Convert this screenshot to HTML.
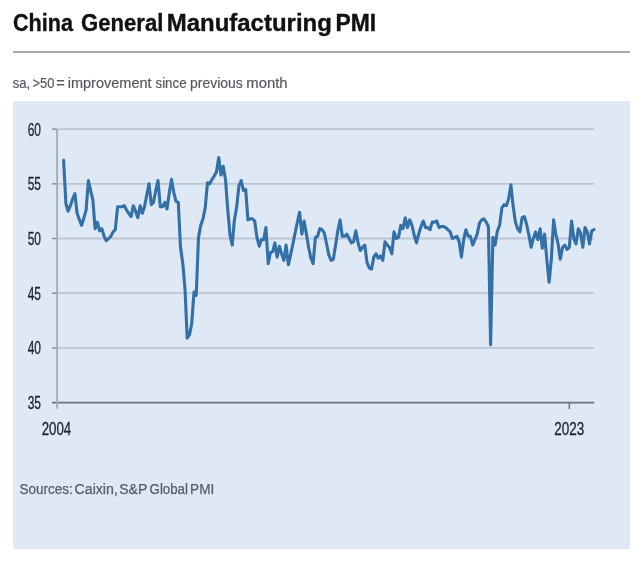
<!DOCTYPE html>
<html><head><meta charset="utf-8"><style>
html,body{margin:0;padding:0;background:#fff;}
body{width:640px;height:563px;position:relative;overflow:hidden;font-family:"Liberation Sans",sans-serif;}
svg{position:absolute;left:0;top:0;filter:blur(0.3px);}
.g{stroke:#bcc6d3;stroke-width:1.8;}
.t{stroke:#8c9097;stroke-width:1.5;}
.ax{stroke:#80858c;stroke-width:1.8;}
.yl{font-family:"Liberation Sans",sans-serif;font-size:17.5px;fill:#1c2130;stroke:#1c2130;stroke-width:0.3;}
</style></head><body>
<svg width="640" height="563" viewBox="0 0 640 563">
<text x="12.89" y="30.80" font-size="23.20" textLength="60.06" lengthAdjust="spacingAndGlyphs" font-family="Liberation Sans" font-weight="bold" fill="#111" stroke="#111" stroke-width="0.35">China</text><text x="81.02" y="30.80" font-size="23.20" textLength="82.32" lengthAdjust="spacingAndGlyphs" font-family="Liberation Sans" font-weight="bold" fill="#111" stroke="#111" stroke-width="0.35">General</text><text x="166.74" y="30.80" font-size="23.20" textLength="165.09" lengthAdjust="spacingAndGlyphs" font-family="Liberation Sans" font-weight="bold" fill="#111" stroke="#111" stroke-width="0.35">Manufacturing</text><text x="335.41" y="30.80" font-size="23.20" textLength="40.75" lengthAdjust="spacingAndGlyphs" font-family="Liberation Sans" font-weight="bold" fill="#111" stroke="#111" stroke-width="0.35">PMI</text>
<rect x="13" y="51" width="617" height="2" fill="#aaaaaa"/>
<text x="12.71" y="87.60" font-size="15.00" textLength="17.35" lengthAdjust="spacingAndGlyphs" font-family="Liberation Sans" fill="#55585e" stroke="#55585e" stroke-width="0.2">sa,</text><text x="32.56" y="87.60" font-size="15.00" textLength="21.88" lengthAdjust="spacingAndGlyphs" font-family="Liberation Sans" fill="#55585e" stroke="#55585e" stroke-width="0.2">&gt;50</text><text x="56.27" y="87.60" font-size="15.00" textLength="8.55" lengthAdjust="spacingAndGlyphs" font-family="Liberation Sans" fill="#55585e" stroke="#55585e" stroke-width="0.2">=</text><text x="67.76" y="87.60" font-size="15.00" textLength="83.79" lengthAdjust="spacingAndGlyphs" font-family="Liberation Sans" fill="#55585e" stroke="#55585e" stroke-width="0.2">improvement</text><text x="155.50" y="87.60" font-size="15.00" textLength="31.09" lengthAdjust="spacingAndGlyphs" font-family="Liberation Sans" fill="#55585e" stroke="#55585e" stroke-width="0.2">since</text><text x="190.10" y="87.60" font-size="15.00" textLength="52.59" lengthAdjust="spacingAndGlyphs" font-family="Liberation Sans" fill="#55585e" stroke="#55585e" stroke-width="0.2">previous</text><text x="246.23" y="87.60" font-size="15.00" textLength="41.43" lengthAdjust="spacingAndGlyphs" font-family="Liberation Sans" fill="#55585e" stroke="#55585e" stroke-width="0.2">month</text>
<rect x="13" y="101" width="617" height="448" fill="#dfe9f6"/>
<line x1="57.8" y1="129.1" x2="594.2" y2="129.1" class="g"/><line x1="52" y1="129.1" x2="57" y2="129.1" class="t"/><line x1="57.8" y1="183.8" x2="594.2" y2="183.8" class="g"/><line x1="52" y1="183.8" x2="57" y2="183.8" class="t"/><line x1="57.8" y1="238.5" x2="594.2" y2="238.5" class="g"/><line x1="52" y1="238.5" x2="57" y2="238.5" class="t"/><line x1="57.8" y1="293.2" x2="594.2" y2="293.2" class="g"/><line x1="52" y1="293.2" x2="57" y2="293.2" class="t"/><line x1="57.8" y1="347.9" x2="594.2" y2="347.9" class="g"/><line x1="52" y1="347.9" x2="57" y2="347.9" class="t"/>
<text x="41" y="135.6" class="yl" text-anchor="end" textLength="13.3" lengthAdjust="spacingAndGlyphs">60</text><text x="41" y="190.3" class="yl" text-anchor="end" textLength="13.3" lengthAdjust="spacingAndGlyphs">55</text><text x="41" y="245.0" class="yl" text-anchor="end" textLength="13.3" lengthAdjust="spacingAndGlyphs">50</text><text x="41" y="299.7" class="yl" text-anchor="end" textLength="13.3" lengthAdjust="spacingAndGlyphs">45</text><text x="41" y="354.4" class="yl" text-anchor="end" textLength="13.3" lengthAdjust="spacingAndGlyphs">40</text><text x="41" y="409.1" class="yl" text-anchor="end" textLength="13.3" lengthAdjust="spacingAndGlyphs">35</text>
<line x1="52" y1="402.6" x2="594.2" y2="402.6" stroke="#6f747b" stroke-width="1.8"/>
<line x1="57.1" y1="129" x2="57.1" y2="408.8" stroke="#a3adba" stroke-width="1.9"/>
<line x1="569.3" y1="402" x2="569.3" y2="409" stroke="#6f747b" stroke-width="1.5"/>
<text x="56.5" y="434.8" class="yl" text-anchor="middle" textLength="29.5" lengthAdjust="spacingAndGlyphs">2004</text>
<text x="569.2" y="434.8" class="yl" text-anchor="middle" textLength="30" lengthAdjust="spacingAndGlyphs">2023</text>
<polyline points="63.6,160.3 65.9,203.5 68.1,211.2 70.4,205.7 72.6,199.1 74.9,193.6 77.1,213.3 79.4,219.9 81.6,225.4 83.9,217.7 86.1,210.1 88.4,180.5 90.6,190.4 92.9,200.2 95.1,228.7 97.4,222.1 99.6,230.8 101.8,228.7 104.1,236.3 106.3,240.7 108.6,238.5 110.8,236.3 113.1,231.9 115.3,229.7 117.6,206.8 119.8,206.8 122.1,206.8 124.3,205.7 126.6,210.1 128.8,213.3 131.1,216.6 133.3,205.7 135.6,211.2 137.8,217.7 140.1,205.7 142.3,213.3 144.5,206.8 146.8,194.7 149.0,183.8 151.3,204.6 153.5,202.4 155.8,190.4 158.0,180.5 160.3,206.8 162.5,206.8 164.8,202.4 167.0,209.0 169.3,192.6 171.5,179.4 173.8,192.6 176.0,201.3 178.3,202.4 180.5,247.3 182.8,263.7 185.0,288.8 187.2,338.1 189.5,334.8 191.7,323.8 194.0,292.1 196.2,295.4 198.5,237.4 200.7,225.4 203.0,218.8 205.2,207.9 207.5,182.7 209.7,183.8 212.0,179.4 214.2,176.1 216.5,171.8 218.7,157.5 221.0,175.0 223.2,166.3 225.5,179.4 227.7,209.0 229.9,234.1 232.2,245.1 234.4,219.9 236.7,206.8 238.9,186.0 241.2,180.5 243.4,190.4 245.7,189.3 247.9,219.9 250.2,218.8 252.4,218.8 254.7,221.0 256.9,237.4 259.2,246.2 261.4,239.6 263.7,239.6 265.9,227.6 268.2,263.7 270.4,252.7 272.7,251.6 274.9,242.9 277.1,257.1 279.4,246.2 281.6,253.8 283.9,260.4 286.1,245.1 288.4,264.8 290.6,254.9 292.9,244.0 295.1,233.0 297.4,222.1 299.6,212.2 301.9,234.1 304.1,221.0 306.4,234.1 308.6,247.3 310.9,258.2 313.1,263.7 315.4,237.4 317.6,236.3 319.8,228.7 322.1,229.7 324.3,233.0 326.6,244.0 328.8,254.9 331.1,260.4 333.3,259.3 335.6,245.1 337.8,230.8 340.1,219.9 342.3,236.3 344.6,236.3 346.8,234.1 349.1,238.5 351.3,242.9 353.6,241.8 355.8,230.8 358.1,242.9 360.3,250.5 362.5,247.3 364.8,245.1 367.0,262.6 369.3,268.0 371.5,269.1 373.8,257.1 376.0,253.8 378.3,258.2 380.5,256.0 382.8,260.4 385.0,241.8 387.3,245.1 389.5,247.3 391.8,253.8 394.0,231.9 396.3,238.5 398.5,237.4 400.8,225.4 403.0,228.7 405.2,217.7 407.5,227.6 409.7,219.9 412.0,225.4 414.2,235.2 416.5,242.9 418.7,234.1 421.0,226.5 423.2,221.0 425.5,227.6 427.7,227.6 430.0,229.7 432.2,222.1 434.5,222.1 436.7,221.0 439.0,227.6 441.2,226.5 443.5,226.5 445.7,227.6 447.9,229.7 450.2,231.9 452.4,238.5 454.7,237.4 456.9,236.3 459.2,241.8 461.4,257.1 463.7,239.6 465.9,229.7 468.2,236.3 470.4,236.3 472.7,245.1 474.9,239.6 477.2,234.1 479.4,223.2 481.7,219.9 483.9,218.8 486.2,222.1 488.4,226.5 490.6,344.6 492.9,237.4 495.1,245.1 497.4,230.8 499.6,225.4 501.9,207.9 504.1,204.6 506.4,205.7 508.6,199.1 510.9,184.9 513.1,205.7 515.4,222.1 517.6,228.7 519.9,231.9 522.1,217.7 524.4,216.6 526.6,224.3 528.9,235.2 531.1,247.3 533.3,238.5 535.6,231.9 537.8,239.6 540.1,228.7 542.3,248.3 544.6,234.1 546.8,259.3 549.1,282.3 551.3,259.3 553.6,219.9 555.8,234.1 558.1,244.0 560.3,259.3 562.6,247.3 564.8,245.1 567.1,249.4 569.3,247.3 571.6,221.0 573.8,238.5 576.0,244.0 578.3,228.7 580.5,233.0 582.8,247.3 585.0,227.6 587.3,231.9 589.5,244.0 591.8,230.8 594.0,229.7" fill="none" stroke="#3470a8" stroke-width="3.1" stroke-linejoin="round" stroke-linecap="round"/>
<text x="19.59" y="494.00" font-size="14.00" textLength="53.24" lengthAdjust="spacingAndGlyphs" font-family="Liberation Sans" fill="#575c66" stroke="#575c66" stroke-width="0.25">Sources:</text><text x="74.59" y="494.00" font-size="14.00" textLength="43.23" lengthAdjust="spacingAndGlyphs" font-family="Liberation Sans" fill="#575c66" stroke="#575c66" stroke-width="0.25">Caixin,</text><text x="119.27" y="494.00" font-size="14.00" textLength="27.94" lengthAdjust="spacingAndGlyphs" font-family="Liberation Sans" fill="#575c66" stroke="#575c66" stroke-width="0.25">S&amp;P</text><text x="149.54" y="494.00" font-size="14.00" textLength="38.44" lengthAdjust="spacingAndGlyphs" font-family="Liberation Sans" fill="#575c66" stroke="#575c66" stroke-width="0.25">Global</text><text x="190.11" y="494.00" font-size="14.00" textLength="24.15" lengthAdjust="spacingAndGlyphs" font-family="Liberation Sans" fill="#575c66" stroke="#575c66" stroke-width="0.25">PMI</text>
</svg>
</body></html>
